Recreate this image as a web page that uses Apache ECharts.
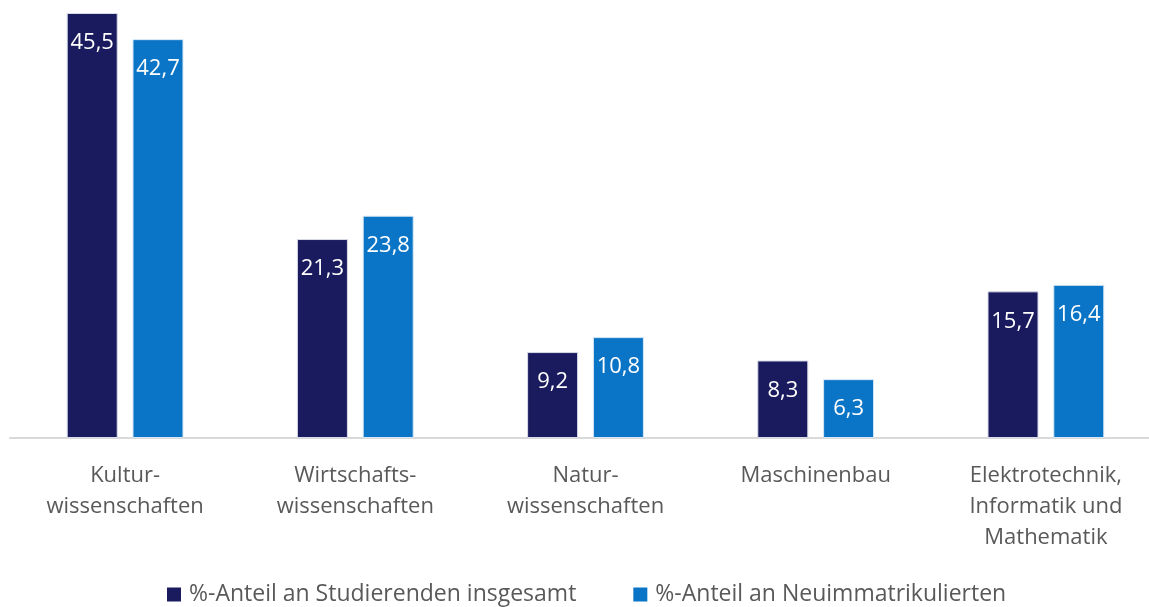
<!DOCTYPE html>
<html>
<head>
<meta charset="utf-8">
<script src="https://cdn.jsdelivr.net/npm/echarts@6/dist/echarts.min.js"></script>
<style>
  html, body { margin: 0; padding: 0; background: #fff; }
  #main { width: 1149px; height: 607px; }
</style>
</head>
<body>
<div id="main"></div>
<script>
// Fachbereiche
var categories = [
    'Kultur-\nwissenschaften',
    'Wirtschafts-\nwissenschaften',
    'Natur-\nwissenschaften',
    'Maschinenbau',
    'Elektrotechnik,\nInformatik und\nMathematik'
];
var seriesNames = ['%-Anteil an Studierenden insgesamt', '%-Anteil an Neuimmatrikulierten'];
var studierend = [45.5, 21.3, 9.2, 8.3, 15.7];
var neuimmatrikuliert = [42.7, 23.8, 10.8, 6.3, 16.4];

var chart = echarts.init(document.getElementById('main'));

// Zahlen mit Komma
function komma(p) {
    return String(p.value).replace('.', ',');
}

var label = {
    show: true,
    position: 'insideTop',
    distance: 19,
    color: '#ffffff',
    fontSize: 22,
    fontFamily: 'Open Sans',
    formatter: komma
};

chart.setOption({
    animation: false,
    textStyle: { fontFamily: 'Open Sans' },
    grid: { left: 10, right: -12, top: 13, bottom: 169, outerBoundsMode: 'none' },
    legend: {
        top: 583,
        left: 167,
        padding: 0,
        itemWidth: 14,
        itemHeight: 14,
        itemGap: 57,
        icon: 'rect',
        itemStyle: { borderWidth: 0 },
        textStyle: { color: '#595959', fontSize: 23, fontFamily: 'Open Sans', padding: [0, 0, 0, 3] },
        data: seriesNames
    },
    xAxis: {
        type: 'category',
        data: categories,
        axisTick: { show: false },
        axisLine: { lineStyle: { color: '#d9d9d9', width: 2 } },
        axisLabel: {
            color: '#595959',
            fontSize: 22,
            lineHeight: 31,
            margin: 22,
            interval: 0,
            fontFamily: 'Open Sans'
        }
    },
    yAxis: {
        type: 'value',
        min: 0,
        max: 45.5,
        show: false,
        splitLine: { show: false }
    },
    series: [
        {
            name: seriesNames[0],
            type: 'bar',
            data: studierend,
            barWidth: 51,
            barGap: '29%',
            itemStyle: { color: '#1a1b5e', borderColor: '#d8dbe8', borderWidth: 1 },
            label: label
        },
        {
            name: seriesNames[1],
            type: 'bar',
            data: neuimmatrikuliert,
            barWidth: 51,
            itemStyle: { color: '#0a74c6', borderColor: '#d8e8f6', borderWidth: 1 },
            label: label
        }
    ]
});
</script>
</body>
</html>
